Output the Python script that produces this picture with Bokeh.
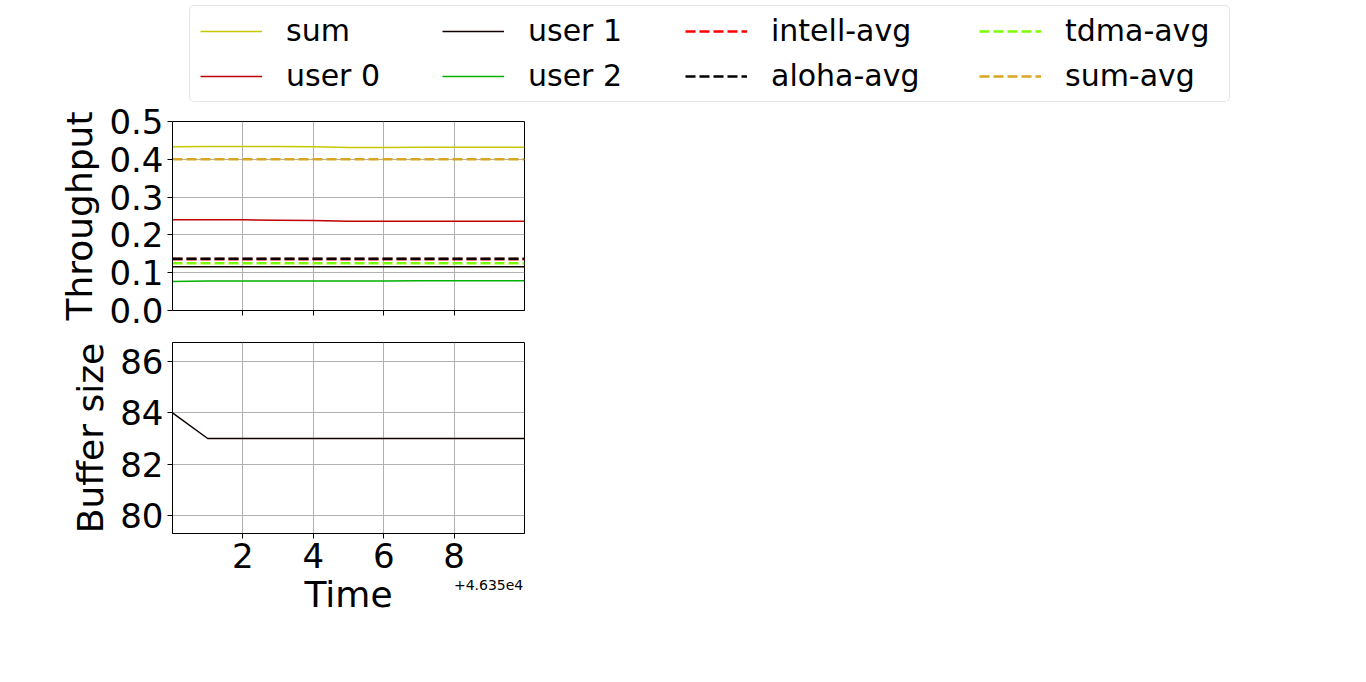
from bokeh.plotting import figure
from bokeh.models import Range1d, FixedTicker, Legend, LegendItem, LinearAxis, PrintfTickFormatter
from bokeh.embed import file_html
from bokeh.resources import INLINE

# ---- data (time offsets from 4.635e4) ----
time_offset = [0, 1, 2, 3, 4, 5, 6, 7, 8, 9, 10]
sum_tp = [0.433, 0.434, 0.434, 0.434, 0.433, 0.431, 0.431, 0.432, 0.432, 0.432, 0.432]
user0 = [0.240, 0.240, 0.240, 0.239, 0.238, 0.236, 0.236, 0.236, 0.236, 0.236, 0.236]
user1 = [0.116, 0.116, 0.116, 0.116, 0.116, 0.116, 0.116, 0.116, 0.116, 0.116, 0.116]
user2 = [0.077, 0.078, 0.078, 0.078, 0.078, 0.078, 0.078, 0.079, 0.079, 0.079, 0.079]
intell_avg = 0.136
aloha_avg = 0.137
tdma_avg = 0.125
sum_avg = 0.400
buffer_size = [84, 83, 83, 83, 83, 83, 83, 83, 83, 83, 83]

x_ticks = [2, 4, 6, 8]
tp_ticks = [0.0, 0.1, 0.2, 0.3, 0.4, 0.5]
buf_ticks = [80, 82, 84, 86]
offset_text = "+4.635e4"
offset_pos = 8.98

FONT = "DejaVu Sans"
W = 1366
HL = 103          # legend strip
Y1 = 334          # boundary between panels
H1 = Y1 - HL      # throughput panel
H2 = 682 - Y1     # buffer panel

SERIES = [
    ("sum", "#c8c800", None, 1.5),
    ("user 0", "#c00000", None, 1.5),
    ("user 1", "#100000", None, 1.5),
    ("user 2", "#00b000", None, 1.5),
    ("intell-avg", "#ff0000", "10 4", 2.6),
    ("aloha-avg", "black", "10 4", 2.6),
    ("tdma-avg", "#7cfc00", "10 4", 2.6),
    ("sum-avg", "#daa520", "10 4", 2.6),
]


def style(p):
    p.outline_line_color = "black"
    p.outline_line_width = 1
    p.outline_line_alpha = 1
    p.background_fill_color = "white"
    p.border_fill_color = "white"
    for ax in p.axis:
        ax.axis_line_color = "black"
        ax.major_tick_line_color = "black"
        ax.major_tick_in = 0
        ax.major_tick_out = 5
        ax.minor_tick_line_color = None
        ax.major_label_text_font = FONT
        ax.major_label_text_font_size = "34px"
        ax.major_label_text_color = "black"
        ax.axis_label_text_font = FONT
        ax.axis_label_text_font_size = "36px"
        ax.axis_label_text_font_style = "normal"
        ax.axis_label_text_color = "black"
        ax.major_label_standoff = 4
        ax.axis_label_standoff = 6
    p.grid.grid_line_color = "#b0b0b0"
    p.grid.grid_line_width = 1


def draw_line(p, x, y, spec):
    _, color, dash, width = spec
    kw = dict(line_color=color, line_width=width)
    if dash:
        kw["line_dash"] = dash
    return p.line(x, y, **kw)


# ---- legend strip (its own plot so the legend can span the full width) ----
pl = figure(width=W, height=HL, output_backend="svg", toolbar_location=None,
            x_range=Range1d(0, 1), y_range=Range1d(0, 1),
            x_axis_location=None, y_axis_location=None, min_border=0,
            min_border_left=0, min_border_right=0, min_border_top=0, min_border_bottom=0)
pl.grid.visible = False
pl.outline_line_color = None
pl.background_fill_color = "white"
pl.border_fill_color = "white"

# proxies drawn outside the visible range, used only for legend glyphs
proxy_x = [5, 6]
proxy_y = [5, 5]
box_r = pl.line(proxy_x, proxy_y, line_alpha=0)
box = Legend(items=[LegendItem(label=" ", renderers=[box_r])],
             location=(189, 1), orientation="vertical",
             glyph_width=1039, glyph_height=HL - 8, label_height=HL - 8, label_width=0,
             label_standoff=0, label_text_font_size="1px", padding=0, margin=0,
             spacing=0, border_line_color="#cccccc", border_line_width=1,
             background_fill_color="white", background_fill_alpha=1)
if "border_radius" in Legend.properties():
    box.border_radius = 5
pl.add_layout(box)

leg_r = [draw_line(pl, proxy_x, proxy_y, s) for s in SERIES]
col_x = [200, 442, 685, 979]
for c, gx in enumerate(col_x):
    idx = [2 * c, 2 * c + 1]
    lg = Legend(items=[LegendItem(label=SERIES[i][0], renderers=[leg_r[i]]) for i in idx],
                location=(gx, HL - 93), orientation="vertical",
                glyph_width=62, glyph_height=34, label_height=34,
                label_standoff=24, label_text_font=FONT, label_text_font_size="30px",
                label_text_color="black",
                padding=0, margin=0, spacing=10,
                border_line_alpha=0, background_fill_alpha=0)
    pl.add_layout(lg)

# ---- top: throughput ----
p1 = figure(width=W, height=H1, output_backend="svg", toolbar_location=None,
            x_range=Range1d(0, 10), y_range=Range1d(0, 0.5),
            min_border_left=172, min_border_right=W - 524,
            min_border_top=121 - HL, min_border_bottom=H1 - (310 - HL))
style(p1)
p1.xaxis.ticker = FixedTicker(ticks=x_ticks)
p1.yaxis.ticker = FixedTicker(ticks=tp_ticks)
p1.yaxis.formatter = PrintfTickFormatter(format="%.1f")
p1.xaxis.major_label_text_color = None
p1.xaxis.major_label_text_font_size = "1px"
p1.xaxis.major_label_standoff = 0
p1.yaxis.axis_label = "Throughput"

x_ends = [time_offset[0], time_offset[-1]]
draw_line(p1, time_offset, sum_tp, SERIES[0])
draw_line(p1, time_offset, user0, SERIES[1])
draw_line(p1, time_offset, user1, SERIES[2])
draw_line(p1, time_offset, user2, SERIES[3])
draw_line(p1, x_ends, [intell_avg, intell_avg], SERIES[4])
draw_line(p1, x_ends, [aloha_avg, aloha_avg], SERIES[5])
draw_line(p1, x_ends, [tdma_avg, tdma_avg], SERIES[6])
draw_line(p1, x_ends, [sum_avg, sum_avg], SERIES[7])

# ---- bottom: buffer ----
p2 = figure(width=W, height=H2, output_backend="svg", toolbar_location=None,
            x_range=Range1d(0, 10), y_range=Range1d(79.3, 86.74),
            min_border_left=172, min_border_right=W - 524,
            min_border_top=342 - Y1, min_border_bottom=H2 - (533 - Y1))
style(p2)
p2.xaxis.ticker = FixedTicker(ticks=x_ticks)
p2.yaxis.ticker = FixedTicker(ticks=buf_ticks)
p2.xaxis.axis_label = "Time"
p2.xaxis.axis_label_standoff = 3
p2.yaxis.axis_label = "Buffer size"
p2.line(time_offset, buffer_size, line_color="#100000", line_width=1.5)

off_ax = LinearAxis(ticker=FixedTicker(ticks=[offset_pos]),
                    major_label_overrides={offset_pos: offset_text},
                    axis_line_color=None, major_tick_line_color=None,
                    minor_tick_line_color=None, major_tick_in=0, major_tick_out=0,
                    major_label_text_font=FONT, major_label_text_font_size="14px",
                    major_label_text_color="black", major_label_standoff=-38)
p2.add_layout(off_ax, "below")

open("out.html", "w").write(file_html([pl, p1, p2], INLINE))
